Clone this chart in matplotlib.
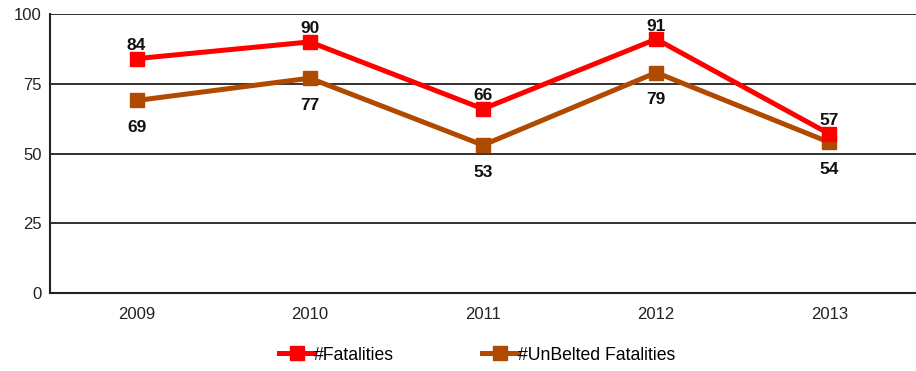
import matplotlib
matplotlib.use("Agg")
import matplotlib.pyplot as plt
from matplotlib.lines import Line2D

plt.rcParams['font.family'] = ['Liberation Sans', 'DejaVu Sans']

years = ["2009", "2010", "2011", "2012", "2013"]
fatalities = [84, 90, 66, 91, 57]
unbelted = [69, 77, 53, 79, 54]
y_ticks = [0, 25, 50, 75, 100]

red = "#FF0000"
brown = "#B04A00"

fig = plt.figure(figsize=(9.16, 3.71), dpi=100)
ax = fig.add_axes([50 / 916, 1 - 293 / 371, 866 / 916, (293 - 14) / 371])

x = list(range(len(years)))
ax.plot(x, fatalities, color=red, lw=3.6, marker="s", ms=10, zorder=4,
        solid_joinstyle="miter")
ax.plot(x, unbelted, color=brown, lw=3.6, marker="s", ms=10, zorder=3,
        solid_joinstyle="miter")

for xi, v in zip(x, fatalities):
    ax.annotate(str(v), (xi, v), xytext=(0, 4), textcoords="offset points",
                ha="center", va="bottom", fontsize=12.5, fontweight="bold",
                color="#111111", zorder=5)
for xi, v in zip(x, unbelted):
    ax.annotate(str(v), (xi, v), xytext=(0, -14), textcoords="offset points",
                ha="center", va="top", fontsize=12.5, fontweight="bold",
                color="#111111", zorder=5)

ax.set_xlim(-0.5, len(years) - 0.5)
ax.set_ylim(0, 100)
ax.set_yticks(y_ticks)
ax.set_xticks(x)
ax.set_xticklabels(years)
ax.tick_params(axis="both", length=0, labelsize=12, colors="#222222")
ax.tick_params(axis="x", pad=10)
ax.tick_params(axis="y", pad=6)

for yv in y_ticks[1:]:
    ax.axhline(yv, color="#222222", lw=1.3, zorder=1)

for side in ["top", "right"]:
    ax.spines[side].set_visible(False)
for side in ["left", "bottom"]:
    ax.spines[side].set_color("#222222")
    ax.spines[side].set_linewidth(1.5)

handles = [
    Line2D([], [], color=red, lw=3.6, marker="s", ms=10),
    Line2D([], [], color=brown, lw=3.6, marker="s", ms=10),
]
fig.legend(handles, ["#Fatalities", "#UnBelted Fatalities"],
           loc="center", bbox_to_anchor=(477 / 916, 1 - 355 / 371),
           ncol=2, frameon=False, fontsize=12.7, handlelength=2.0,
           handletextpad=0.0, columnspacing=5.0)

fig.savefig("out.png", dpi=100)
